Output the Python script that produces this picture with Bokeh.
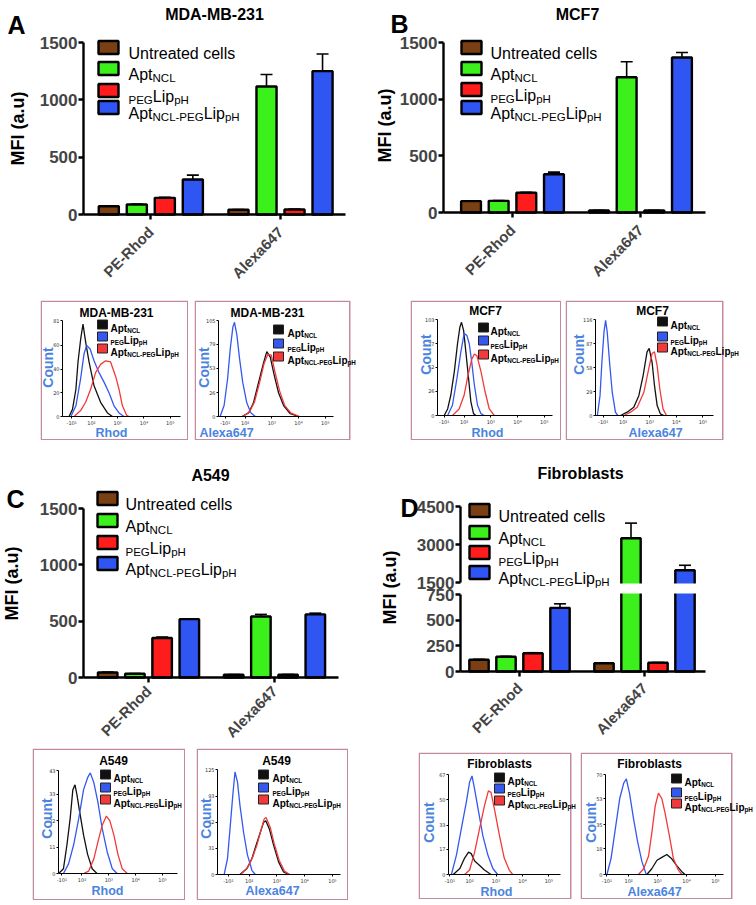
import math
from bokeh.plotting import figure
from bokeh.models import (Range1d, FixedTicker, Label, BoxAnnotation, Whisker, TeeHead,
                          ColumnDataSource, Spacer, LinearAxis)
from bokeh.layouts import row, column
from bokeh.embed import file_html
from bokeh.resources import INLINE

FONT = "Liberation Sans"

# ---------------------------------------------------------------- data
categories = ["PE-Rhod", "Alexa647"]
series_colors = ["#7b3f14", "#3cf01c", "#ff1c1c", "#2f55f2"]

# MFI: [Untreated cells, AptNCL, PEGLippH, AptNCL-PEGLippH]
mda_rhod_mfi = [72, 87, 145, 305]
mda_rhod_sd = [4, 4, 5, 38]
mda_alexa_mfi = [41, 1116, 44, 1250]
mda_alexa_sd = [3, 105, 3, 150]
mcf7_rhod_mfi = [100, 103, 174, 338]
mcf7_rhod_sd = [3, 3, 4, 18]
mcf7_alexa_mfi = [18, 1194, 18, 1368]
mcf7_alexa_sd = [2, 136, 2, 44]
a549_rhod_mfi = [45, 33, 351, 518]
a549_rhod_sd = [3, 3, 8, 4]
a549_alexa_mfi = [24, 542, 25, 560]
a549_alexa_sd = [2, 18, 2, 11]
fib_rhod_mfi = [114, 143, 178, 620]
fib_rhod_sd = [4, 4, 5, 39]
fib_alexa_mfi = [81, 3246, 85, 1984]
fib_alexa_sd = [3, 598, 3, 196]

mfi_ticks = [0, 500, 1000, 1500]
fib_ticks_low = [0, 250, 500, 750]
fib_ticks_high = [1500, 3000, 4500]

# flow cytometry histograms: x in decades (logicle display), y = count
hist_x_ticks = [1.25, 2, 3, 4, 5]
hist_x_labels = ["-10\u00b9", "10\u00b2", "10\u00b3", "10\u2074", "10\u2075"]

mda_rhod_apt = ([1.15, 1.28, 1.41, 1.49, 1.59, 1.68, 1.78, 1.91, 2.10, 2.35, 2.61, 2.80],
                [0, 6, 23, 46, 65, 78, 63, 46, 26, 12, 3, 0])
mda_rhod_lip = ([1.22, 1.41, 1.59, 1.72, 1.82, 1.95, 2.10, 2.29, 2.48, 2.67, 2.86, 3.05, 3.24],
                [0, 9, 32, 53, 60, 57, 47, 37, 29, 20, 9, 3, 0])
mda_rhod_conj = ([1.34, 1.59, 1.78, 1.97, 2.16, 2.35, 2.54, 2.73, 2.92, 3.05, 3.18, 3.34, 3.43],
                 [0, 5, 12, 23, 37, 44, 47, 46, 34, 23, 9, 1, 0])
mda_alexa_apt = ([1.88, 2.13, 2.31, 2.50, 2.69, 2.81, 2.94, 3.09, 3.25, 3.44, 3.69, 4.00],
                 [0, 4, 15, 37, 59, 71, 65, 45, 26, 12, 3, 0])
mda_alexa_lip = ([1.06, 1.21, 1.34, 1.44, 1.54, 1.60, 1.69, 1.79, 1.91, 2.06, 2.21, 2.38],
                 [0, 12, 41, 74, 98, 103, 89, 63, 37, 15, 4, 0])
mda_alexa_conj = ([1.91, 2.16, 2.35, 2.54, 2.71, 2.85, 2.98, 3.13, 3.29, 3.48, 3.71, 4.04],
                  [0, 5, 16, 37, 58, 68, 67, 47, 28, 12, 4, 0])

mcf7_rhod_apt = ([1.25, 1.38, 1.50, 1.63, 1.75, 1.84, 1.90, 1.98, 2.06, 2.15, 2.25, 2.35, 2.44],
                 [0, 7, 22, 47, 77, 95, 100, 91, 69, 44, 15, 2, 0])
mcf7_rhod_lip = ([1.38, 1.56, 1.73, 1.88, 2.00, 2.10, 2.19, 2.28, 2.38, 2.50, 2.63, 2.75],
                 [0, 11, 40, 69, 88, 86, 77, 58, 33, 11, 2, 0])
mcf7_rhod_conj = ([1.56, 1.81, 2.00, 2.15, 2.28, 2.38, 2.48, 2.63, 2.78, 2.94, 3.13],
                  [0, 7, 22, 44, 60, 66, 64, 47, 26, 7, 0])
mcf7_alexa_apt = ([1.90, 2.15, 2.40, 2.59, 2.75, 2.90, 2.98, 3.09, 3.18, 3.28, 3.40, 3.53],
                  [0, 4, 10, 24, 48, 77, 81, 64, 36, 12, 2, 0])
mcf7_alexa_lip = ([1.03, 1.13, 1.20, 1.28, 1.34, 1.40, 1.49, 1.59, 1.71, 1.80],
                  [0, 24, 64, 101, 115, 101, 64, 28, 4, 0])
mcf7_alexa_conj = ([2.03, 2.28, 2.53, 2.78, 2.96, 3.09, 3.18, 3.28, 3.38, 3.50, 3.63],
                   [0, 4, 10, 28, 56, 75, 77, 60, 32, 8, 0])

a549_rhod_apt = ([1.13, 1.31, 1.44, 1.56, 1.66, 1.74, 1.81, 1.91, 2.06, 2.21, 2.38, 2.56],
                 [0, 2, 12, 23, 35, 37, 33, 26, 16, 8, 2, 0])
a549_rhod_lip = ([1.31, 1.50, 1.69, 1.88, 2.06, 2.21, 2.31, 2.44, 2.59, 2.75, 2.94, 3.13, 3.31],
                 [0, 4, 12, 23, 35, 40, 42, 38, 30, 19, 9, 2, 0])
a549_rhod_conj = ([2.06, 2.25, 2.44, 2.59, 2.75, 2.91, 3.04, 3.19, 3.34, 3.50, 3.69],
                  [0, 1, 6, 13, 20, 24, 22, 16, 8, 2, 0])
a549_alexa_apt = ([1.67, 1.92, 2.10, 2.25, 2.40, 2.52, 2.60, 2.73, 2.88, 3.06, 3.24, 3.42],
                  [0, 7, 19, 35, 50, 62, 64, 54, 35, 15, 3, 0])
a549_alexa_lip = ([1.10, 1.22, 1.31, 1.41, 1.49, 1.58, 1.67, 1.80, 1.94, 2.10, 2.22],
                  [0, 19, 54, 94, 122, 110, 82, 50, 23, 5, 0])
a549_alexa_conj = ([1.70, 1.94, 2.12, 2.28, 2.42, 2.54, 2.61, 2.76, 2.90, 3.08, 3.27, 3.46],
                   [0, 8, 20, 35, 52, 66, 68, 56, 37, 17, 4, 0])

fib_rhod_apt = ([1.38, 1.63, 1.81, 1.96, 2.06, 2.19, 2.38, 2.56, 2.81],
                [0, 4, 11, 15, 14, 9, 6, 3, 0])
fib_rhod_lip = ([1.31, 1.50, 1.69, 1.88, 2.00, 2.09, 2.19, 2.34, 2.50, 2.69, 2.88, 3.06],
                [0, 13, 31, 49, 62, 66, 57, 42, 26, 13, 4, 0])
fib_rhod_conj = ([1.81, 2.00, 2.19, 2.38, 2.56, 2.71, 2.81, 2.96, 3.13, 3.31, 3.50, 3.63],
                 [0, 3, 15, 31, 46, 56, 55, 42, 26, 11, 3, 0])
fib_alexa_apt = ([2.63, 2.80, 2.98, 3.15, 3.32, 3.49, 3.67, 3.84, 3.95],
                 [0, 4, 10, 12, 14, 11, 6, 2, 0])
fib_alexa_lip = ([1.25, 1.39, 1.54, 1.69, 1.83, 1.92, 2.03, 2.17, 2.31, 2.46, 2.61],
                 [0, 11, 32, 53, 64, 67, 57, 39, 23, 9, 0])
fib_alexa_conj = ([2.34, 2.52, 2.69, 2.80, 2.92, 3.03, 3.15, 3.26, 3.41, 3.55, 3.72, 3.84],
                  [0, 4, 13, 29, 48, 57, 53, 43, 27, 11, 3, 0])

# legend texts: (text, is_subscript)
bar_legend = [[("Untreated cells", False)],
              [("Apt", False), ("NCL", True)],
              [("PEG", True), ("Lip", False), ("pH", True)],
              [("Apt", False), ("NCL-PEG", True), ("Lip", False), ("pH", True)]]
hist_legend = bar_legend[1:]
hist_colors = ["#111111", "#3558ee", "#f23a3a"]
AXIS_BLUE = "#4a84e0"
BOX_PINK = "#c48a9c"

# ---------------------------------------------------------------- helpers
W_REG = {' ': 278, '-': 333, 'A': 667, 'C': 722, 'E': 667, 'G': 778, 'H': 722, 'L': 556,
         'N': 722, 'P': 667, 'U': 722, 'a': 556, 'c': 500, 'd': 556, 'e': 556, 'h': 556,
         'i': 222, 'l': 222, 'n': 556, 'p': 556, 'r': 333, 's': 500, 't': 278}
W_BOLD = {' ': 278, '-': 333, 'A': 722, 'C': 722, 'E': 667, 'G': 778, 'H': 722, 'L': 611,
          'N': 722, 'P': 667, 'U': 722, 'a': 556, 'c': 556, 'd': 611, 'e': 556, 'h': 611,
          'i': 278, 'l': 278, 'n': 611, 'p': 611, 'r': 389, 's': 556, 't': 333}


def text_w(s, size, bold):
    t = W_BOLD if bold else W_REG
    return sum(t.get(c, 556) for c in s) * size / 1000.0


class Geo:
    """Maps page pixels to data values of one figure (linear, via its scales)."""
    def __init__(self, px_x, dx, px_y, dy):
        self.px_x, self.dx, self.px_y, self.dy = px_x, dx, px_y, dy
        self.sx = (dx[1] - dx[0]) / (px_x[1] - px_x[0])
        self.sy = (dy[1] - dy[0]) / (px_y[0] - px_y[1])

    def x(self, px):
        return self.dx[0] + (px - self.px_x[0]) * self.sx

    def y(self, py):
        return self.dy[0] + (self.px_y[0] - py) * self.sy

    def __call__(self, px, py):
        return self.x(px), self.y(py)


def make_fig(box, geo):
    x0, y0, w, h = box
    p = figure(width=w, height=h, x_range=Range1d(geo.x(x0), geo.x(x0 + w)),
               y_range=Range1d(geo.y(y0 + h), geo.y(y0)), output_backend="svg",
               toolbar_location=None, min_border=0, min_border_left=0, min_border_right=0,
               min_border_top=0, min_border_bottom=0)
    p.title.visible = False
    p.outline_line_color = None
    p.xgrid.visible = False
    p.ygrid.visible = False
    p.background_fill_color = "white"
    p.border_fill_color = "white"
    return p


def label(p, geo, px, py, text, size, bold=True, color="black", align="center",
          baseline="middle", angle=0.0):
    x, y = geo(px, py)
    p.add_layout(Label(x=x, y=y, text=text, text_font=FONT, text_font_size=f"{size}px",
                       text_font_style="bold" if bold else "normal", text_color=color,
                       text_align=align, text_baseline=baseline, angle=angle))


def rich(p, geo, px, py_base, segs, size, sub, shift, bold):
    x = px
    for text, is_sub in segs:
        fs = sub if is_sub else size
        label(p, geo, x, py_base + (shift if is_sub else 0), text, fs, bold=bold,
              align="left", baseline="alphabetic")
        x += text_w(text, fs, bold)


def box_px(p, geo, x0, x1, y0, y1, fill, line, lw):
    l, t = geo(x0, y0)
    r, b = geo(x1, y1)
    p.add_layout(BoxAnnotation(left=l, right=r, top=t, bottom=b, fill_color=fill,
                               fill_alpha=1 if fill else 0, line_color=line,
                               line_width=lw, line_alpha=1 if line else 0))


GROUP_OFFS = [-0.324, -0.108, 0.108, 0.324]
BAR_W = 0.155


def draw_bars(p, groups, y_lo=None, y_hi=None, range_name="default",
              broken_top=None, broken_bottom=None):
    xs, tops, bots, cols, wx, wl, wu = [], [], [], [], [], [], []
    for gi, (vals, sds) in enumerate(groups):
        for si in range(4):
            v = vals[si]
            if y_lo is not None and v <= y_lo:
                continue
            x = gi + GROUP_OFFS[si]
            xs.append(x)
            tops.append(broken_top if (y_hi is not None and v > y_hi) else v)
            bots.append(broken_bottom if y_lo is not None else 0)
            cols.append(series_colors[si])
            up = v + sds[si]
            if y_hi is None or up <= y_hi:
                wx.append(x)
                wl.append(v)
                wu.append(up)
    src = ColumnDataSource(dict(x=xs, top=tops, bottom=bots, color=cols))
    p.vbar(x="x", top="top", bottom="bottom", width=BAR_W, fill_color="color",
           line_color="black", line_width=2.4, source=src, y_range_name=range_name)
    wsrc = ColumnDataSource(dict(x=wx, lower=wl, upper=wu))
    p.add_layout(Whisker(source=wsrc, base="x", lower="lower", upper="upper",
                         dimension="height", line_color="black", line_width=1.6,
                         upper_head=TeeHead(size=12, line_color="black", line_width=1.6),
                         lower_head=None, y_range_name=range_name))


def style_y_bar(ax, ticks, x_loc):
    ax.ticker = FixedTicker(ticks=ticks)
    ax.bounds = (ticks[0], ticks[-1])
    ax.fixed_location = x_loc
    ax.axis_line_width = 2.4
    ax.major_tick_line_width = 2.4
    ax.major_tick_out = 5
    ax.major_tick_in = 0
    ax.minor_tick_line_color = None
    ax.major_label_text_font = FONT
    ax.major_label_text_font_size = "17px"
    ax.major_label_text_font_style = "bold"
    ax.major_label_standoff = 1


def style_x_bar(ax, bounds, standoff):
    ax.ticker = FixedTicker(ticks=list(range(len(categories))))
    ax.major_label_overrides = {i: c for i, c in enumerate(categories)}
    ax.major_label_orientation = math.pi / 4
    ax.bounds = bounds
    ax.fixed_location = 0
    ax.axis_line_width = 2.4
    ax.major_tick_line_width = 2.4
    ax.major_tick_out = 5
    ax.major_tick_in = 0
    ax.minor_tick_line_color = None
    ax.major_label_text_font = FONT
    ax.major_label_text_font_size = "15px"
    ax.major_label_text_font_style = "bold"
    ax.major_label_standoff = standoff


def add_bar_legend(p, geo, sw_x, rows_y, text_x):
    for i, (yc, segs) in enumerate(zip(rows_y, bar_legend)):
        box_px(p, geo, sw_x, sw_x + 20, yc - 6.5, yc + 6.5, series_colors[i], "black", 2.4)
        rich(p, geo, text_x, yc + 5.5, segs, 16, 11.5, 4, False)


def bar_panel(box, plot, xr, groups, title, title_xy, letter, letter_xy, ylab_xy,
              sw_x, rows_y, text_x, xlab_standoff):
    geo = Geo((plot[0], plot[1]), xr, (plot[3], plot[2]), (0, 1500))
    p = make_fig(box, geo)
    draw_bars(p, groups)
    style_y_bar(p.yaxis[0], mfi_ticks, xr[0])
    style_x_bar(p.xaxis[0], xr, xlab_standoff)
    label(p, geo, title_xy[0], title_xy[1], title, 16)
    label(p, geo, letter_xy[0], letter_xy[1], letter, 25)
    label(p, geo, ylab_xy[0], ylab_xy[1], "MFI (a.u)", 18, angle=math.pi / 2)
    add_bar_legend(p, geo, sw_x, rows_y, text_x)
    return p


def histo(box, box_w, plot, dx, yticks, title, title_xy, xlabel, xlabel_xy, count_xy,
          curves, sw_x, rows_y, text_x):
    geo = Geo((plot[0], plot[1]), dx, (plot[3], plot[2]), (0, yticks[-1]))
    p = make_fig(box, geo)
    x0, y0, w, h = box
    box_px(p, geo, x0 + 0.75, x0 + box_w - 0.75, y0 + 0.75, y0 + h - 0.75, None, BOX_PINK, 1.5)
    for (u, n), col in zip(curves, hist_colors):
        p.line(u, n, line_color=col, line_width=1.3)
    for ax in (p.xaxis[0], p.yaxis[0]):
        ax.axis_line_width = 1
        ax.major_tick_out = 2
        ax.major_tick_in = 0
        ax.minor_tick_line_color = None
        ax.major_label_text_font = "DejaVu Sans"
        ax.major_label_text_font_size = "5px"
        ax.major_label_text_color = "#333333"
        ax.major_label_standoff = 1
    xa, ya = p.xaxis[0], p.yaxis[0]
    xa.ticker = FixedTicker(ticks=hist_x_ticks)
    xa.major_label_overrides = dict(zip(hist_x_ticks, hist_x_labels))
    xa.bounds = dx
    xa.fixed_location = 0
    ya.ticker = FixedTicker(ticks=yticks)
    ya.bounds = (0, yticks[-1])
    ya.fixed_location = dx[0]
    label(p, geo, title_xy[0], title_xy[1], title, 12)
    label(p, geo, xlabel_xy[0], xlabel_xy[1], xlabel, 12.5, color=AXIS_BLUE)
    label(p, geo, count_xy[0], count_xy[1], "Count", 14, color=AXIS_BLUE, angle=math.pi / 2)
    for i, (yc, segs) in enumerate(zip(rows_y, hist_legend)):
        box_px(p, geo, sw_x, sw_x + 10, yc - 4.5, yc + 4.5, hist_colors[i], "#222222", 1)
        rich(p, geo, text_x, yc + 3.8, segs, 10, 6.3, 2.5, True)
    return p


# ---------------------------------------------------------------- bar panels
pA = bar_panel((0, 0, 372, 295), (83, 345, 42, 214), (-0.519, 1.501),
               [(mda_rhod_mfi, mda_rhod_sd), (mda_alexa_mfi, mda_alexa_sd)],
               "MDA-MB-231", (214, 14), "A", (16, 24), (17, 128),
               98, [47, 68, 90, 107], 128, 10)
pB = bar_panel((372, 0, 384, 295), (443, 705, 42, 212), (-0.539, 1.508),
               [(mcf7_rhod_mfi, mcf7_rhod_sd), (mcf7_alexa_mfi, mcf7_alexa_sd)],
               "MCF7", (577, 14), "B", (399, 23), (384, 125),
               461, [47, 68, 89, 107], 490, 10)
pC = bar_panel((0, 447, 372, 300), (83, 338, 508, 677), (-0.516, 1.508),
               [(a549_rhod_mfi, a549_rhod_sd), (a549_alexa_mfi, a549_alexa_sd)],
               "A549", (210, 475), "C", (15, 498), (11, 583),
               97, [498, 520, 542, 563], 125, 6)

# panel D: broken y axis (lower 0-750, upper 1500-4500) in one figure
xrD = (-0.472, 1.488)
groupsD = [(fib_rhod_mfi, fib_rhod_sd), (fib_alexa_mfi, fib_alexa_sd)]
boxD = (372, 447, 384, 300)
geoD = Geo((460, 705), xrD, (671, 594), (0, 750))
geoDu = Geo((460, 705), xrD, (582, 506), (1500, 4500))
pD = make_fig(boxD, geoD)
pD.extra_y_ranges = {"upper": Range1d(geoDu.y(boxD[1] + boxD[3]), geoDu.y(boxD[1]))}
draw_bars(pD, groupsD, y_hi=750, broken_top=geoD.y(588))
draw_bars(pD, groupsD, y_lo=1500, range_name="upper", broken_bottom=geoDu.y(588))
# white gap of the axis break
box_px(pD, geoD, 462, 706, 583, 593, "white", None, 0)
style_y_bar(pD.yaxis[0], fib_ticks_low, xrD[0])
up_axis = LinearAxis(y_range_name="upper")
pD.add_layout(up_axis, "left")
style_y_bar(up_axis, fib_ticks_high, xrD[0])
style_x_bar(pD.xaxis[0], xrD, 9)
label(pD, geoD, 580, 473, "Fibroblasts", 16)
label(pD, geoD, 409, 507, "D", 25)
label(pD, geoD, 389, 587, "MFI (a.u)", 18, angle=math.pi / 2)
add_bar_legend(pD, geoD, 469, [510, 532, 552, 572], 498)

# ---------------------------------------------------------------- histograms
h1 = histo((40, 300, 148, 140), 148, (62, 180, 320, 416), (0.90, 5.39), [0, 20, 40, 60, 81],
           "MDA-MB-231", (116, 312), "Rhod", (111, 432), (47, 367),
           [mda_rhod_apt, mda_rhod_lip, mda_rhod_conj], 97, [324, 336, 348], 110)
h2 = histo((194, 300, 166, 140), 156, (218, 333, 320, 416), (1.0, 5.31), [0, 26, 53, 79, 105],
           "MDA-MB-231", (267, 312), "Alexa647", (226, 432), (203, 367),
           [mda_alexa_apt, mda_alexa_lip, mda_alexa_conj], 273, [329, 343, 356], 287)
h3 = histo((410, 300, 151, 140), 151, (437, 552, 319, 415), (1.0, 5.31), [0, 26, 52, 77, 103],
           "MCF7", (485, 310), "Rhod", (487, 432), (425, 354),
           [mcf7_rhod_apt, mcf7_rhod_lip, mcf7_rhod_conj], 478, [327, 340, 354], 490)
h4 = histo((565, 300, 183, 140), 158, (595, 713, 319, 415), (0.96, 5.4), [0, 29, 58, 87, 116],
           "MCF7", (652, 310), "Alexa647", (655, 432), (578, 354),
           [mcf7_alexa_apt, mcf7_alexa_lip, mcf7_alexa_conj], 657, [321, 336, 347], 670)
h5 = histo((32, 748, 153, 152), 153, (58, 177, 770, 873), (1.125, 5.56), [0, 11, 22, 33, 43],
           "A549", (113, 760), "Rhod", (107, 890), (46, 818),
           [a549_rhod_apt, a549_rhod_lip, a549_rhod_conj], 100, [774, 787, 799], 113)
h6 = histo((196, 748, 152, 152), 152, (217, 340, 769, 874), (0.86, 5.29), [0, 31, 62, 93, 125],
           "A549", (276, 760), "Alexa647", (272, 890), (205, 818),
           [a549_alexa_apt, a549_alexa_lip, a549_alexa_conj], 258, [774, 787, 799], 272)
h7 = histo((418, 752, 162, 147), 153, (448, 560, 774, 874), (1.2, 5.44), [0, 17, 33, 50, 67],
           "Fibroblasts", (499, 763), "Rhod", (496, 891), (428, 822),
           [fib_rhod_apt, fib_rhod_lip, fib_rhod_conj], 494, [777, 788, 800], 507)
h8 = histo((580, 752, 176, 147), 152, (605, 723, 774, 874), (1.2, 5.28), [0, 18, 35, 53, 70],
           "Fibroblasts", (649, 763), "Alexa647", (654, 891), (590, 822),
           [fib_alexa_apt, fib_alexa_lip, fib_alexa_conj], 671, [778, 792, 803], 684)


# ---------------------------------------------------------------- layout
def sp(w, h):
    return Spacer(width=w, height=h)


row1 = row(pA, pB)
row2 = column(sp(748, 5),
              row(sp(40, 140), h1, sp(6, 140), h2, sp(50, 140), h3, sp(4, 140), h4),
              sp(748, 7))
row3 = row(pC, pD)
row4 = row(sp(32, 153), column(sp(153, 1), h5), sp(11, 153), column(sp(152, 1), h6),
           sp(70, 153), column(sp(162, 5), h7), column(sp(176, 5), h8))
page = column(row1, row2, row3, row4)

open("out.html", "w").write(file_html(page, INLINE))
